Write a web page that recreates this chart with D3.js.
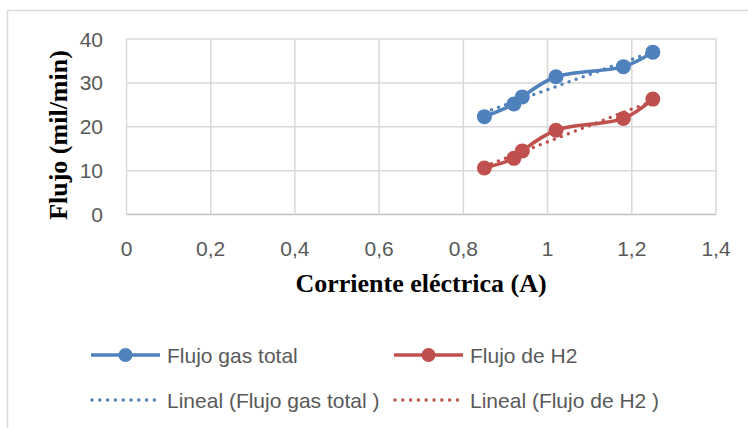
<!DOCTYPE html>
<html lang="es">
<head>
    <meta charset="UTF-8">
    <title>Flujo vs corriente</title>
    <script src="https://d3js.org/d3.v7.min.js"></script>
    <style>
        body { margin: 0; background: #fff; }
        .tick-label { font-family: "Liberation Sans", Arial, sans-serif; font-size: 21px; fill: #595959; }
        .axis-title { font-family: "Liberation Serif", "Times New Roman", serif; font-size: 26px; font-weight: bold; fill: #000; }
        .legend-label { font-family: "Liberation Sans", Arial, sans-serif; font-size: 21px; fill: #595959; }
    </style>
</head>
<body>
    <svg width="748" height="428"></svg>

    <script>
        // datos
        const corriente = [0.85, 0.92, 0.94, 1.02, 1.18, 1.25];
        const flujoTotal = [22.3, 25.2, 26.8, 31.4, 33.7, 37.0];
        const flujoH2 = [10.6, 12.8, 14.5, 19.2, 21.9, 26.3];
        const xTicks = [0, 0.2, 0.4, 0.6, 0.8, 1, 1.2, 1.4];
        const yTicks = [0, 10, 20, 30, 40];

        const series = [
            { name: "Flujo gas total", trend: "Lineal (Flujo gas total )", values: flujoTotal, color: "#4f81bd" },
            { name: "Flujo de H2", trend: "Lineal (Flujo de H2 )", values: flujoH2, color: "#c0504d" }
        ];

        const svg = d3.select("svg");

        // marco del grafico
        svg.append("rect")
            .attr("x", 7.5).attr("y", 10.5)
            .attr("width", 760).attr("height", 440)
            .attr("fill", "none").attr("stroke", "#d9d9d9").attr("stroke-width", 1.5);

        const x = d3.scaleLinear().domain([0, 1.4]).range([126.5, 716]);
        const y = d3.scaleLinear().domain([0, 40]).range([214.5, 39]);

        // rejilla
        svg.selectAll(".hgrid").data(yTicks).enter()
            .append("line")
            .attr("x1", x(0)).attr("x2", x(1.4))
            .attr("y1", d => y(d)).attr("y2", d => y(d))
            .attr("stroke", d => d === 0 ? "#bfbfbf" : "#d9d9d9")
            .attr("stroke-width", 1.5);

        svg.selectAll(".vgrid").data(xTicks).enter()
            .append("line")
            .attr("x1", d => x(d)).attr("x2", d => x(d))
            .attr("y1", y(40)).attr("y2", y(0))
            .attr("stroke", "#d9d9d9")
            .attr("stroke-width", 1.5);

        // etiquetas de ejes
        const fmt = d => String(d).replace(".", ",");
        svg.selectAll(".ytick").data(yTicks).enter()
            .append("text").attr("class", "tick-label")
            .attr("x", 103).attr("y", d => y(d))
            .attr("dy", "0.36em")
            .attr("text-anchor", "end")
            .text(d => d);

        svg.selectAll(".xtick").data(xTicks).enter()
            .append("text").attr("class", "tick-label")
            .attr("x", d => x(d)).attr("y", 248)
            .attr("dy", "0.36em")
            .attr("text-anchor", "middle")
            .text(fmt);

        svg.append("text").attr("class", "axis-title")
            .attr("x", 421).attr("y", 292)
            .attr("text-anchor", "middle")
            .text("Corriente eléctrica (A)");

        svg.append("text").attr("class", "axis-title")
            .attr("transform", "translate(67,135) rotate(-90)")
            .attr("text-anchor", "middle")
            .text("Flujo (mil/min)");

        // regresion lineal (linea de tendencia)
        function linearFit(xs, ys) {
            const n = xs.length;
            const mx = d3.mean(xs), my = d3.mean(ys);
            let sxy = 0, sxx = 0;
            for (let i = 0; i < n; i++) {
                sxy += (xs[i] - mx) * (ys[i] - my);
                sxx += (xs[i] - mx) * (xs[i] - mx);
            }
            const b = sxy / sxx;
            return xv => my + b * (xv - mx);
        }

        const smooth = d3.line()
            .x(d => x(d[0])).y(d => y(d[1]))
            .curve(d3.curveCatmullRom.alpha(0.5));

        series.forEach(s => {
            const pts = corriente.map((c, i) => [c, s.values[i]]);
            const fit = linearFit(corriente, s.values);
            const ext = d3.extent(corriente);

            svg.append("path")
                .attr("d", smooth(pts))
                .attr("fill", "none")
                .attr("stroke", s.color)
                .attr("stroke-width", 3.5);

            svg.append("line")
                .attr("x1", x(ext[0])).attr("y1", y(fit(ext[0])))
                .attr("x2", x(ext[1])).attr("y2", y(fit(ext[1])))
                .attr("stroke", s.color)
                .attr("stroke-width", 3.5)
                .attr("stroke-linecap", "round")
                .attr("stroke-dasharray", "0 7.5");

            svg.selectAll(null).data(pts).enter()
                .append("circle")
                .attr("cx", d => x(d[0])).attr("cy", d => y(d[1]))
                .attr("r", 7.5)
                .attr("fill", s.color);
        });

        // leyenda
        const legendCols = [91, 394];
        series.forEach((s, i) => {
            const lx = legendCols[i];
            const g = svg.append("g");
            g.append("line")
                .attr("x1", lx).attr("x2", lx + 69)
                .attr("y1", 355).attr("y2", 355)
                .attr("stroke", s.color).attr("stroke-width", 3.5);
            g.append("circle")
                .attr("cx", lx + 34.5).attr("cy", 355).attr("r", 7)
                .attr("fill", s.color);
            g.append("text").attr("class", "legend-label")
                .attr("x", lx + 76).attr("y", 355).attr("dy", "0.36em")
                .text(s.name);

            g.append("line")
                .attr("x1", lx + 1).attr("x2", lx + 64)
                .attr("y1", 400).attr("y2", 400)
                .attr("stroke", s.color).attr("stroke-width", 3.5)
                .attr("stroke-linecap", "round")
                .attr("stroke-dasharray", "0 7.8");
            g.append("text").attr("class", "legend-label")
                .attr("x", lx + 76).attr("y", 400).attr("dy", "0.36em")
                .text(s.trend);
        });
    </script>
</body>
</html>
